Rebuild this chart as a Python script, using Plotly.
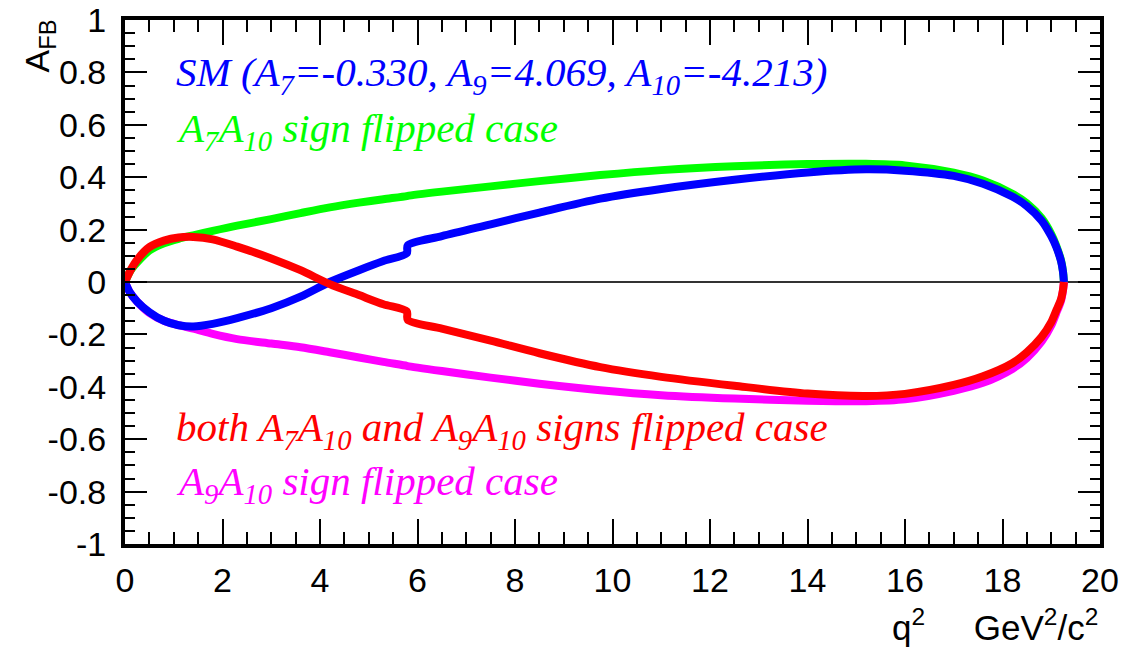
import plotly.graph_objects as go

# ---------------- data ----------------
q2 = [0, 0.1, 0.25, 0.5, 0.8, 1.1, 1.4, 1.8, 2.3, 3.0, 3.6, 4.2, 4.8, 5.3,
      5.78, 5.8, 6.5, 7.5, 8.5, 9.75, 11, 12.5, 14, 15.2, 16, 17, 17.6,
      18.2, 18.5, 18.8, 19.0, 19.1, 19.2, 19.24, 19.26]

afb_sm = [0, -0.04, -0.075, -0.115, -0.148, -0.165, -0.17, -0.16, -0.138,
          -0.1, -0.056, 0.0, 0.045, 0.08, 0.11, 0.14, 0.175, 0.22, 0.265,
          0.318, 0.355, 0.39, 0.418, 0.43, 0.425, 0.405, 0.375, 0.326, 0.29,
          0.235, 0.175, 0.135, 0.08, 0.04, 0.0]

afb_a7a10 = [0, 0.04, 0.075, 0.12, 0.148, 0.165, 0.178, 0.195, 0.215, 0.24,
             0.263, 0.285, 0.303, 0.316, 0.328, 0.329, 0.345, 0.365, 0.385,
             0.408, 0.427, 0.442, 0.45, 0.451, 0.445, 0.417, 0.387, 0.337,
             0.3, 0.244, 0.183, 0.14, 0.083, 0.042, 0.0]

afb_both = [0, 0.04, 0.085, 0.133, 0.158, 0.17, 0.172, 0.163, 0.135, 0.09,
            0.045, -0.008, -0.05, -0.085, -0.112, -0.145, -0.178, -0.224,
            -0.272, -0.325, -0.362, -0.396, -0.426, -0.435, -0.427, -0.393,
            -0.36, -0.31, -0.268, -0.21, -0.153, -0.11, -0.066, -0.031, 0.0]

afb_a9a10 = [0, -0.04, -0.075, -0.118, -0.148, -0.165, -0.178, -0.198,
             -0.218, -0.235, -0.249, -0.268, -0.288, -0.305, -0.32, -0.321,
             -0.34, -0.365, -0.388, -0.413, -0.432, -0.445, -0.453, -0.455,
             -0.448, -0.415, -0.385, -0.332, -0.29, -0.228, -0.166, -0.12,
             -0.072, -0.034, 0.0]

x_tickvals = [0, 2, 4, 6, 8, 10, 12, 14, 16, 18, 20]
x_ticktext = ["0", "2", "4", "6", "8", "10", "12", "14", "16", "18", "20"]
y_tickvals = [-1, -0.8, -0.6, -0.4, -0.2, 0, 0.2, 0.4, 0.6, 0.8, 1]
y_ticktext = ["-1", "-0.8", "-0.6", "-0.4", "-0.2", "0", "0.2", "0.4",
              "0.6", "0.8", "1"]

labels = [
    ("SM (A<sub>7</sub>=-0.330, A<sub>9</sub>=4.069, A<sub>10</sub>=-4.213)", "#0000ff", 0.79),
    ("A<sub>7</sub>A<sub>10</sub> sign flipped case", "#00ff00", 0.575),
    ("both A<sub>7</sub>A<sub>10</sub> and A<sub>9</sub>A<sub>10</sub> signs flipped case", "#ff0000", -0.565),
    ("A<sub>9</sub>A<sub>10</sub> sign flipped case", "#ff00ff", -0.77),
]

# ---------------- figure ----------------
fig = go.Figure()
series = [
    (afb_a7a10, "#00ff00", "A7A10 flipped"),
    (afb_a9a10, "#ff00ff", "A9A10 flipped"),
    (afb_sm, "#0000ff", "SM"),
    (afb_both, "#ff0000", "both flipped"),
]
for ys, col, nm in series:
    fig.add_trace(go.Scatter(x=q2, y=ys, mode="lines", name=nm,
                             line=dict(color=col, width=8, shape="spline",
                                       smoothing=0.8),
                             showlegend=False))

tickfont = dict(family="Liberation Sans, Arial, sans-serif", size=34, color="black")

fig.update_xaxes(range=[0, 20], showgrid=False, zeroline=False, automargin=False,
                 showline=True, linewidth=4, linecolor="black",
                 mirror="allticks", ticks="inside", ticklen=25, tickwidth=2,
                 tickcolor="black", tickvals=x_tickvals, ticktext=x_ticktext,
                 tickfont=tickfont, ticklabelstandoff=3, ticklabeloverflow="allow",
                 minor=dict(dtick=0.5, ticks="inside", ticklen=12,
                            tickwidth=2, tickcolor="black", showgrid=False))
fig.update_yaxes(range=[-1, 1], showgrid=False, automargin=False,
                 zeroline=True, zerolinecolor="#333333", zerolinewidth=1.5,
                 showline=True, linewidth=4, linecolor="black",
                 mirror="allticks", ticks="inside", ticklen=22, tickwidth=2,
                 tickcolor="black", tickvals=y_tickvals, ticktext=y_ticktext,
                 tickfont=tickfont, ticklabelstandoff=8, ticklabeloverflow="allow",
                 minor=dict(dtick=0.05, ticks="inside", ticklen=10,
                            tickwidth=2, tickcolor="black", showgrid=False))

annotations = []
for txt, col, yv in labels:
    annotations.append(dict(x=1.0, y=yv, xref="x", yref="y", xanchor="left",
                            yanchor="middle", showarrow=False,
                            text="<i>" + txt + "</i>",
                            font=dict(family="Liberation Serif, Times New Roman, serif",
                                      size=41, color=col)))
# axis titles
annotations.append(dict(x=1.0, y=-0.155, xref="paper", yref="paper",
                        xanchor="right", yanchor="middle", showarrow=False,
                        text="q<sup>2</sup>     GeV<sup>2</sup>/c<sup>2</sup>",
                        font=dict(family="Liberation Sans, Arial, sans-serif",
                                  size=35, color="black")))
annotations.append(dict(x=-0.088, y=0.95, xref="paper", yref="paper",
                        xanchor="center", yanchor="middle", showarrow=False,
                        textangle=-90, text="A<sub>FB</sub>",
                        font=dict(family="Liberation Sans, Arial, sans-serif",
                                  size=34, color="black")))

# the page body adds an 8 px offset, so the figure is sized to fit the window
fig.update_layout(width=1124, height=642, autosize=False,
                  margin=dict(l=117, r=32, t=12, b=106, autoexpand=False),
                  paper_bgcolor="white", plot_bgcolor="white",
                  annotations=annotations)

fig.write_html("out.html")
